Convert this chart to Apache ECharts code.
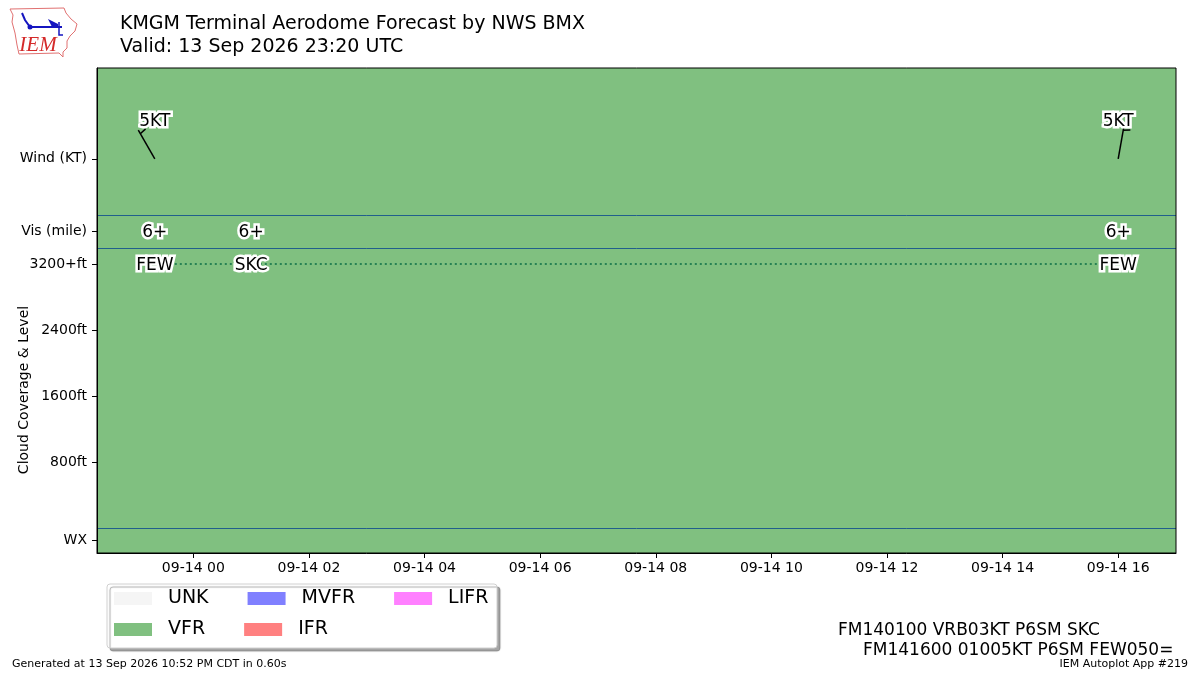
<!DOCTYPE html>
<html style="height: 100%">
<head>
    <meta charset="utf-8">
</head>
<body style="height: 100%; margin: 0; background: #fff">
<div id="container" style="width: 1200px; height: 675px"></div>

<script src="https://cdn.jsdelivr.net/npm/echarts@6/dist/echarts.min.js"></script>
<script type="text/javascript">
    // hours relative to 2026-09-14 00:00 UTC
    var xMin = -5 / 3, xMax = 17;
    var yMin = -300, yMax = 5575;

    var xTickHours = [0, 2, 4, 6, 8, 10, 12, 14, 16];
    var xTickLabels = ['09-14 00', '09-14 02', '09-14 04', '09-14 06', '09-14 08',
        '09-14 10', '09-14 12', '09-14 14', '09-14 16'];

    var yTickValues = [-150, 800, 1600, 2400, 3200, 3600, 4475];
    var yTickLabels = ['WX', '800ft', '1600ft', '2400ft', '3200+ft', 'Vis (mile)', 'Wind (KT)'];

    // flight category periods
    var catStart = [xMin, 1, 16];
    var catEnd = [1, 16, xMax];
    var catName = ['VFR', 'VFR', 'VFR'];

    // wind (VRB03KT at 01z not drawn)
    var windTimes = [-2 / 3, 16];
    var windDirs = [330, 10];
    var windKts = [5, 5];
    var windLabels = ['5KT', '5KT'];

    var visTimes = [-2 / 3, 1, 16];
    var visLabels = ['6+', '6+', '6+'];

    var cloudTimes = [-2 / 3, 1, 16];
    var cloudCover = ['FEW', 'SKC', 'FEW'];
    var cloudLevel = [3200, 3200, 3200];

    var dividers = [3800, 3400, 0];
    var WIND_Y = 4475, WIND_LABEL_Y = 4950, VIS_Y = 3600;

    var categories = ['UNK', 'VFR', 'MVFR', 'IFR', 'LIFR'];
    var catColors = {UNK: '#f5f5f5', VFR: '#80c080', MVFR: '#8080ff', IFR: '#ff8080', LIFR: '#ff80ff'};

    var tafLines = ['FM140100 VRB03KT P6SM SKC', 'FM141600 01005KT P6SM FEW050='];

    var FONT = 'DejaVu Sans';

    var chart = echarts.init(document.getElementById('container'), null, {renderer: 'canvas'});

    function textSeries(name, times, yval, labels) {
        return {
            name: name,
            type: 'custom',
            z: 10,
            data: times.map(function (t) { return [t, yval]; }),
            encode: {x: 0, y: 1},
            renderItem: function (params, api) {
                var p = api.coord([api.value(0), api.value(1)]);
                return {
                    type: 'text',
                    x: p[0], y: p[1] + 2,
                    style: {
                        text: labels[params.dataIndex],
                        fontFamily: FONT, fontSize: 17,
                        fill: '#000', stroke: '#fff', lineWidth: 5,
                        align: 'center', verticalAlign: 'middle'
                    }
                };
            }
        };
    }

    var series = [];

    categories.forEach(function (c) {
        var rows = [];
        for (var i = 0; i < catName.length; i++) {
            if (catName[i] === c) rows.push([catStart[i], catEnd[i]]);
        }
        series.push({
            name: c,
            type: 'custom',
            z: 1,
            itemStyle: {color: catColors[c]},
            data: rows,
            encode: {x: [0, 1]},
            renderItem: function (params, api) {
                var a = api.coord([api.value(0), yMax]);
                var b = api.coord([api.value(1), yMin]);
                var x0 = Math.round(a[0]), x1 = Math.round(b[0]);
                return {
                    type: 'rect',
                    shape: {x: x0, y: Math.round(a[1]), width: x1 - x0, height: Math.round(b[1]) - Math.round(a[1])},
                    style: {fill: catColors[c]}
                };
            }
        });
    });

    // section divider lines
    series.push({
        name: 'dividers',
        type: 'custom',
        z: 4,
        silent: true,
        data: dividers.map(function (v) { return [v]; }),
        encode: {y: 0},
        renderItem: function (params, api) {
            var a = api.coord([xMin, api.value(0)]);
            var b = api.coord([xMax, api.value(0)]);
            var y = Math.round(a[1]) + 0.5;
            return {
                type: 'line',
                shape: {x1: a[0], y1: y, x2: b[0], y2: y},
                style: {stroke: '#215f8c', lineWidth: 1}
            };
        }
    });

    // cloud level line
    series.push({
        name: 'clouds',
        type: 'line',
        z: 5,
        data: cloudTimes.map(function (t, i) { return [t, cloudLevel[i]]; }),
        symbol: 'none',
        lineStyle: {color: '#0a6e46', width: 1.5, type: [2, 3]}
    });

    // wind barbs
    series.push({
        name: 'wind',
        type: 'custom',
        z: 8,
        data: windTimes.map(function (t, i) { return [t, windDirs[i], windKts[i]]; }),
        encode: {x: 0},
        renderItem: function (params, api) {
            var base = api.coord([api.value(0), WIND_Y]);
            var d = api.value(1) * Math.PI / 180;
            var ux = Math.sin(d), uy = -Math.cos(d);
            var L = 33;
            var tip = [base[0] + ux * L, base[1] + uy * L];
            var children = [{
                type: 'line',
                shape: {x1: base[0], y1: base[1], x2: tip[0], y2: tip[1]},
                style: {stroke: '#000', lineWidth: 1.5}
            }];
            // half barb for 5 kt
            var spd = api.value(2);
            if (spd >= 5) {
                var px = tip[0] - ux * 4, py = tip[1] - uy * 4;
                var bl = spd >= 10 ? 14 : 7;
                children.push({
                    type: 'line',
                    shape: {x1: px, y1: py, x2: px - uy * bl + ux * 1.5, y2: py + ux * bl + uy * 1.5},
                    style: {stroke: '#000', lineWidth: 1.5}
                });
            }
            return {type: 'group', children: children};
        }
    });

    series.push(textSeries('windText', windTimes, WIND_LABEL_Y, windLabels));
    series.push(textSeries('visText', visTimes, VIS_Y, visLabels));
    series.push(textSeries('cloudText', cloudTimes, cloudLevel[0], cloudCover));

    var legendText = {fontFamily: FONT, fontSize: 19, color: '#000', padding: [0, 0, 0, 11]};

    var option = {
        animation: false,
        textStyle: {fontFamily: FONT},
        title: {
            text: 'KMGM Terminal Aerodome Forecast by NWS BMX\nValid: 13 Sep 2026 23:20 UTC',
            left: 120, top: 13, padding: 0,
            textStyle: {fontFamily: FONT, fontSize: 19, fontWeight: 'normal', color: '#000', lineHeight: 23}
        },
        grid: {
            left: 97, right: 24, top: 68, bottom: 122,
            show: true, z: 20, borderColor: '#000', borderWidth: 1, backgroundColor: 'transparent'
        },
        xAxis: {
            type: 'value',
            min: xMin, max: xMax,
            z: 20,
            axisLine: {onZero: false, lineStyle: {color: '#000'}},
            splitLine: {show: false},
            axisTick: {customValues: xTickHours, length: 5, lineStyle: {color: '#000'}},
            axisLabel: {
                customValues: xTickHours,
                color: '#000', fontSize: 14, fontFamily: FONT, margin: 8,
                formatter: function (v) {
                    var i = xTickHours.indexOf(Math.round(v));
                    return i >= 0 ? xTickLabels[i] : '';
                }
            }
        },
        yAxis: {
            type: 'value',
            min: yMin, max: yMax,
            z: 20,
            axisLine: {show: true, onZero: false, lineStyle: {color: '#000'}},
            splitLine: {show: false},
            axisTick: {show: true, customValues: yTickValues, length: 5, lineStyle: {color: '#000'}},
            axisLabel: {
                customValues: yTickValues,
                color: '#000', fontSize: 14, fontFamily: FONT, margin: 10,
                formatter: function (v) {
                    var i = yTickValues.indexOf(Math.round(v));
                    return i >= 0 ? yTickLabels[i] : '';
                }
            }
        },
        legend: [{
            left: 114, top: 589, padding: 0,
            icon: 'rect', itemWidth: 38, itemHeight: 13, itemGap: 39,
            selectedMode: false,
            textStyle: legendText,
            data: [
                {name: 'UNK', textStyle: {width: 41}},
                {name: 'MVFR', textStyle: {width: 52}},
                {name: 'LIFR', textStyle: {width: 39}}
            ]
        }, {
            left: 114, top: 620, padding: 0,
            icon: 'rect', itemWidth: 38, itemHeight: 13, itemGap: 39,
            selectedMode: false,
            textStyle: legendText,
            data: [
                {name: 'VFR', textStyle: {width: 41}},
                {name: 'IFR', textStyle: {width: 52}}
            ]
        }],
        graphic: [
            {
                type: 'rect', z: -1,
                shape: {x: 107, y: 584, width: 390, height: 64, r: 3},
                style: {
                    fill: '#fff', stroke: '#d0d0d0', lineWidth: 1,
                    shadowColor: 'rgba(0,0,0,0.35)', shadowOffsetX: 3, shadowOffsetY: 3, shadowBlur: 1
                }
            },
            {
                type: 'text', x: 24, y: 390, rotation: Math.PI / 2,
                style: {text: 'Cloud Coverage & Level', fontFamily: FONT, fontSize: 14, fill: '#000',
                    align: 'center', verticalAlign: 'middle'}
            },
            {
                type: 'text', x: 838, y: 631,
                style: {text: tafLines[0], fontFamily: FONT, fontSize: 17, fill: '#000', verticalAlign: 'middle'}
            },
            {
                type: 'text', x: 863, y: 651,
                style: {text: tafLines[1], fontFamily: FONT, fontSize: 17, fill: '#000', verticalAlign: 'middle'}
            },
            {
                type: 'text', x: 12, y: 664,
                style: {text: 'Generated at 13 Sep 2026 10:52 PM CDT in 0.60s', fontFamily: FONT, fontSize: 11,
                    fill: '#000', verticalAlign: 'middle'}
            },
            {
                type: 'text', x: 1188, y: 664,
                style: {text: 'IEM Autoplot App #219', fontFamily: FONT, fontSize: 11, fill: '#000',
                    align: 'right', verticalAlign: 'middle'}
            },
            // IEM logo
            {
                type: 'polyline',
                shape: {points: [[10, 9], [64, 8], [66, 13], [71, 19], [77, 24], [75, 31], [70, 36], [67, 41],
                    [67, 48], [63, 52], [63, 57], [59, 53], [19, 54], [17, 45], [15, 33], [12, 22], [13, 15], [10, 9]]},
                style: {stroke: '#e07070', lineWidth: 1, fill: '#fff'}
            },
            {
                type: 'text', x: 38, y: 45,
                style: {text: 'IEM', fontFamily: 'Liberation Serif', fontStyle: 'italic', fontSize: 21,
                    fill: '#d42a2a', align: 'center', verticalAlign: 'middle'}
            },
            {
                type: 'polyline',
                shape: {points: [[22, 13], [25, 20], [30, 27], [62, 27]]},
                style: {stroke: '#1515c0', lineWidth: 2, fill: null}
            },
            {
                type: 'polygon',
                shape: {points: [[48, 19], [58, 24], [58, 27], [52, 27]]},
                style: {fill: '#1515c0'}
            },
            {
                type: 'polyline',
                shape: {points: [[59, 22], [59, 35], [63, 35]]},
                style: {stroke: '#1515c0', lineWidth: 1.5, fill: null}
            },
            {
                type: 'circle',
                shape: {cx: 30, cy: 27, r: 2.5},
                style: {fill: '#1515c0'}
            }
        ],
        series: series
    };

    chart.setOption(option);
</script>
</body>
</html>
